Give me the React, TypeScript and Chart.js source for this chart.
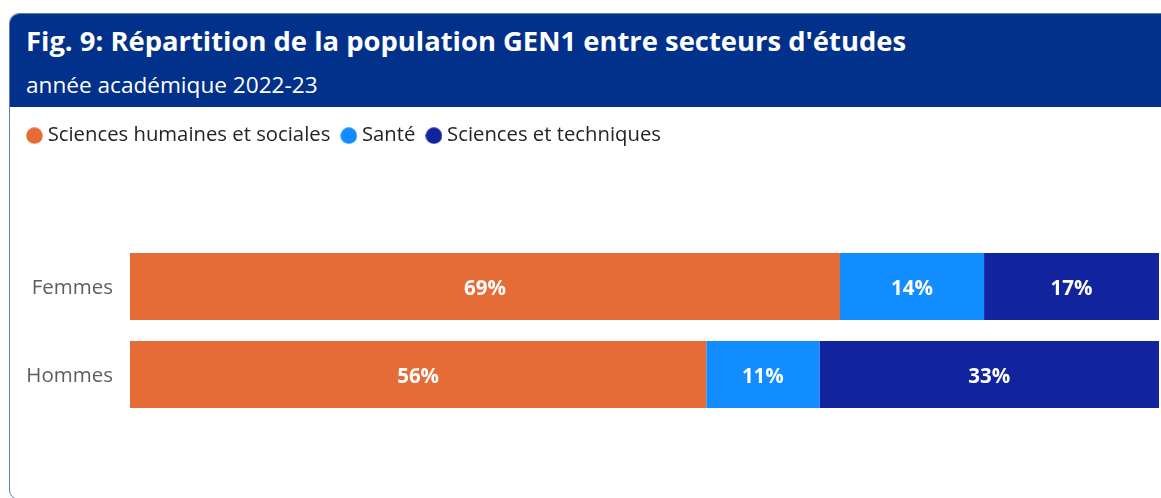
import React, { useEffect, useRef } from "react";
import { Chart, registerables } from "chart.js";

Chart.register(...registerables);

const categories = ["Femmes", "Hommes"];
const seriesNames = ["Sciences humaines et sociales", "Santé", "Sciences et techniques"];
const shsValues = [69, 56];
const santeValues = [14, 11];
const stValues = [17, 33];
const seriesColors = ["#E66C37", "#118DFF", "#12239E"];
const titleText = "Fig. 9: Répartition de la population GEN1 entre secteurs d'études";
const subtitleText = "année académique 2022-23";

const FONT = "'Open Sans', 'Noto Sans', sans-serif";

if (typeof document !== "undefined") {
  document.documentElement.style.overflow = "hidden";
}

function makeDot(color: string): HTMLCanvasElement {
  const c = document.createElement("canvas");
  c.width = 17;
  c.height = 17;
  const g = c.getContext("2d") as CanvasRenderingContext2D;
  g.fillStyle = color;
  g.beginPath();
  g.arc(8.5, 8.5, 8.3, 0, Math.PI * 2);
  g.fill();
  return c;
}

const valueLabels = {
  id: "valueLabels",
  afterDatasetsDraw(chart: any) {
    const ctx = chart.ctx;
    ctx.save();
    ctx.font = `bold 20.5px ${FONT}`;
    ctx.fillStyle = "#ffffff";
    ctx.textAlign = "center";
    ctx.textBaseline = "middle";
    chart.data.datasets.forEach((ds: any, i: number) => {
      const meta = chart.getDatasetMeta(i);
      meta.data.forEach((el: any, j: number) => {
        const v = ds.data[j];
        const p = el.getProps(["x", "base", "y"], true);
        ctx.fillText(`${v}%`, (p.x + p.base) / 2, p.y + 3);
      });
    });
    ctx.restore();
  },
};

export default function App() {
  const ref = useRef<HTMLCanvasElement | null>(null);

  useEffect(() => {
    document.documentElement.style.overflow = "hidden";
    document.body.style.overflow = "hidden";
    const values = [shsValues, santeValues, stValues];
    const dots = seriesColors.map(makeDot);
    const defaultGen = (Chart as any).defaults.plugins.legend.labels.generateLabels;
    const chart = new Chart(ref.current as HTMLCanvasElement, {
      type: "bar",
      data: {
        labels: categories,
        datasets: seriesNames.map((name, i) => ({
          label: name,
          data: values[i],
          backgroundColor: seriesColors[i],
          borderWidth: 0,
          categoryPercentage: 0.76,
          barPercentage: 1,
        })),
      },
      options: {
        indexAxis: "y",
        animation: false,
        responsive: false,
        layout: { padding: { top: 3, left: 6, right: 1, bottom: 78.5 } },
        plugins: {
          tooltip: { enabled: false },
          legend: {
            position: "top",
            align: "start",
            labels: {
              usePointStyle: true,
              boxHeight: 17,
              pointStyleWidth: 6,
              padding: 15.5,
              color: "#252423",
              font: { family: FONT, size: 20.3 },
              generateLabels: (c: any) =>
                defaultGen(c).map((item: any, i: number) => ({ ...item, pointStyle: dots[i] })),
            },
          },
        },
        scales: {
          x: {
            stacked: true,
            min: 0,
            max: 100,
            position: "top",
            ticks: { display: false },
            grid: { display: false },
            border: { display: false },
            afterFit: (s: any) => {
              s.height = 86.7;
            },
          },
          y: {
            stacked: true,
            grid: { display: false },
            border: { display: false },
            ticks: {
              color: "#605E5C",
              padding: 9,
              labelOffset: 2,
              font: { family: FONT, size: 20.5 },
            },
            afterFit: (s: any) => {
              s.width = 114;
            },
          },
        },
      },
      plugins: [valueLabels],
    } as any);
    return () => chart.destroy();
  }, []);

  return (
    <div
      style={{
        position: "fixed",
        left: 9,
        top: 13,
        width: 1180,
        height: 487,
        border: "1px solid #5d7bbf",
        borderRadius: 10,
        overflow: "hidden",
        boxSizing: "border-box",
        background: "#ffffff",
      }}
    >
      <div
        style={{
          position: "relative",
          height: 93,
          background: "#01318A",
          color: "#ffffff",
          fontFamily: FONT,
        }}
      >
        <div
          style={{
            position: "absolute",
            left: 16,
            top: 13.4,
            fontSize: 27.4,
            fontWeight: 700,
            lineHeight: 1,
            whiteSpace: "nowrap",
          }}
        >
          {titleText}
        </div>
        <div
          style={{
            position: "absolute",
            left: 16,
            top: 59.9,
            fontSize: 22.6,
            lineHeight: 1,
            whiteSpace: "nowrap",
          }}
        >
          {subtitleText}
        </div>
      </div>
      <canvas ref={ref} width={1150} height={390} style={{ display: "block" }} />
    </div>
  );
}
